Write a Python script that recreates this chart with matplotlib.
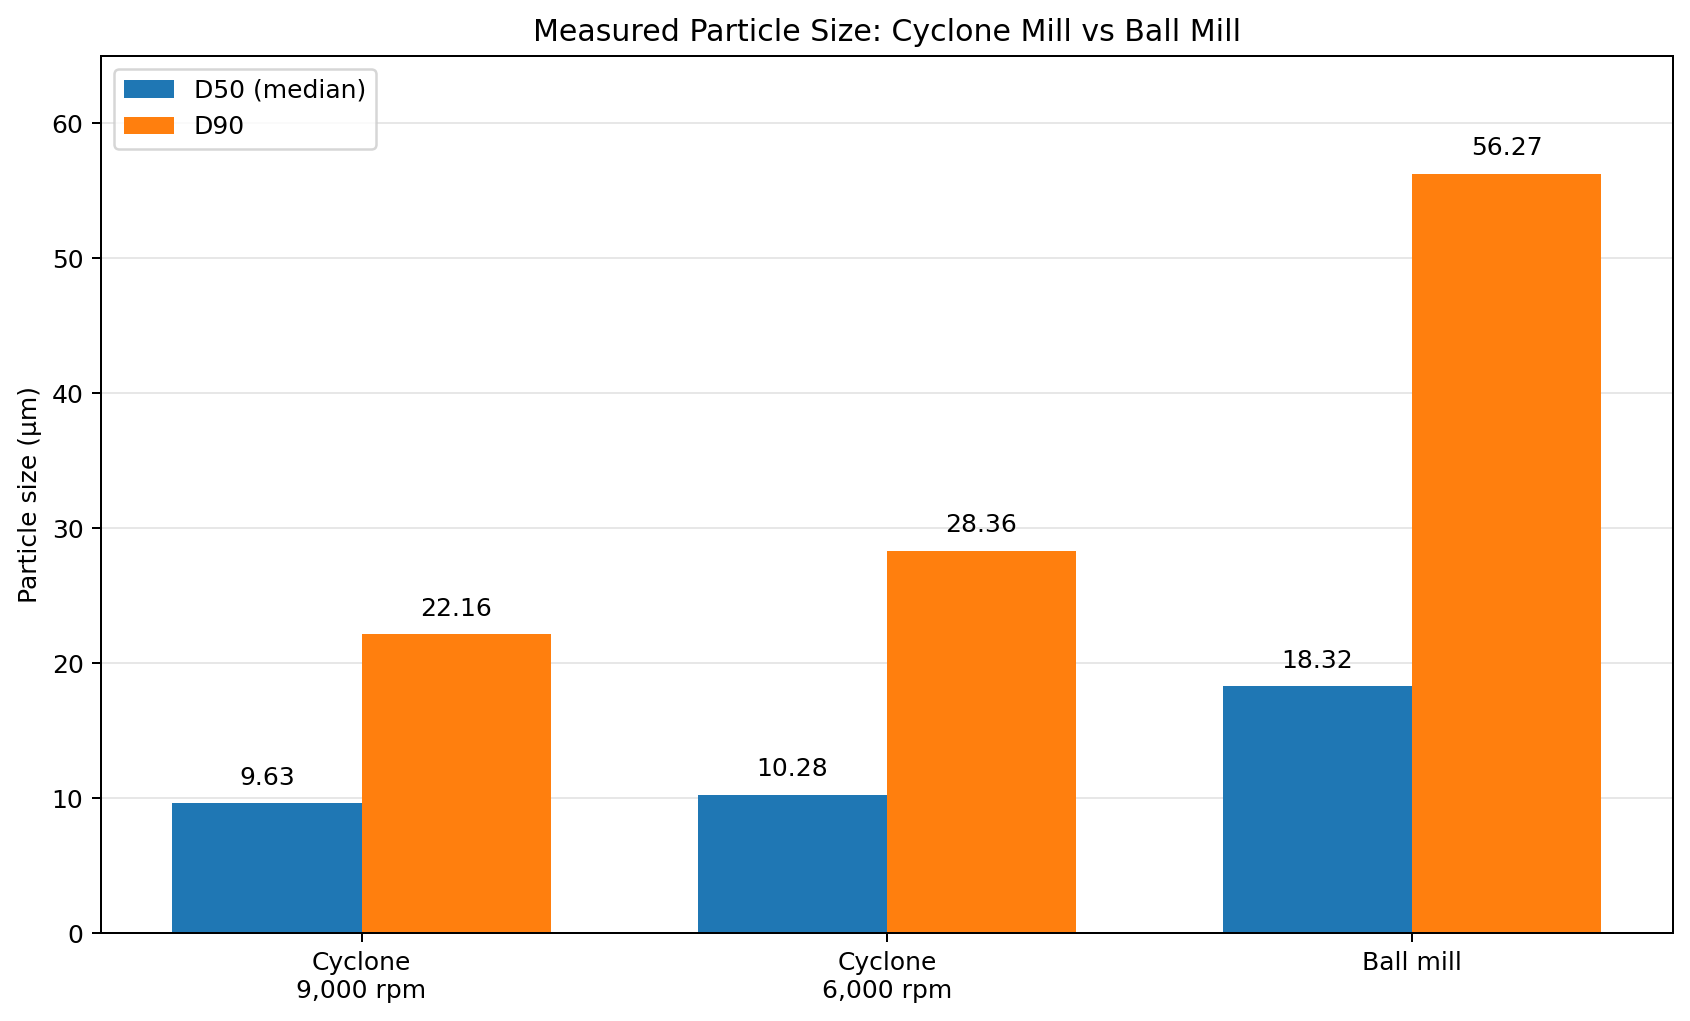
import matplotlib
matplotlib.use("Agg")
import matplotlib.pyplot as plt
import numpy as np

categories = ["Cyclone\n9,000 rpm", "Cyclone\n6,000 rpm", "Ball mill"]
d50 = [9.63, 10.28, 18.32]
d90 = [22.16, 28.36, 56.27]

W, H, DPI = 1690, 1021, 180
fig = plt.figure(figsize=(W/DPI, H/DPI), dpi=DPI)
ax = fig.add_axes([101/W, (H-933.3)/H, (1672.7-101)/W, (933.3-56)/H])
x = np.arange(len(categories))
w = 0.36
b1 = ax.bar(x - w/2, d50, w, label="D50 (median)", color="#1f77b4")
b2 = ax.bar(x + w/2, d90, w, label="D90", color="#ff7f0e")
for bars, vals in ((b1, d50), (b2, d90)):
    for r, v in zip(bars, vals):
        ax.text(r.get_x() + r.get_width()/2, v + 1.0, f"{v:.2f}", ha="center", va="bottom", fontsize=10)
ax.set_xticks(x)
ax.set_xticklabels(categories)
ax.set_ylabel("Particle size (µm)")
ax.set_title("Measured Particle Size: Cyclone Mill vs Ball Mill")
ax.set_ylim(0, 65)
ax.yaxis.grid(True, alpha=0.3)
ax.set_axisbelow(True)
ax.legend(loc="upper left")
fig.savefig("out.png", dpi=DPI)
